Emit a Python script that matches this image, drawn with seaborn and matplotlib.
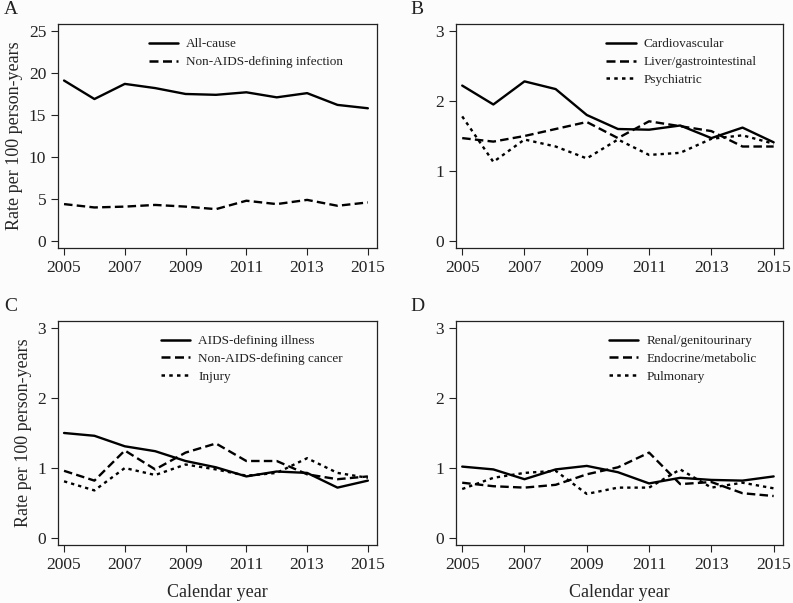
import numpy as np
import pandas as pd
import seaborn as sns
import matplotlib.pyplot as plt

# Mortality rates per 100 person-years, 2005-2015
years = list(range(2005, 2016))

all_cause = [19.1, 16.9, 18.7, 18.2, 17.5, 17.4, 17.7, 17.1, 17.6, 16.2, 15.8]
non_aids_infection = [4.4, 4.0, 4.1, 4.3, 4.1, 3.8, 4.8, 4.4, 4.9, 4.2, 4.6]

cardiovascular = [2.22, 1.95, 2.28, 2.17, 1.80, 1.60, 1.59, 1.65, 1.47, 1.62, 1.41]
liver_gi = [1.47, 1.42, 1.50, 1.60, 1.70, 1.47, 1.71, 1.64, 1.57, 1.35, 1.35]
psychiatric = [1.78, 1.13, 1.45, 1.35, 1.18, 1.45, 1.23, 1.26, 1.46, 1.51, 1.39]

aids_illness = [1.50, 1.46, 1.31, 1.24, 1.10, 1.01, 0.88, 0.95, 0.93, 0.72, 0.82]
non_aids_cancer = [0.96, 0.82, 1.25, 0.98, 1.22, 1.35, 1.10, 1.10, 0.91, 0.84, 0.88]
injury = [0.81, 0.68, 1.00, 0.90, 1.05, 0.98, 0.89, 0.93, 1.14, 0.93, 0.86]

renal = [1.02, 0.98, 0.84, 0.98, 1.03, 0.94, 0.78, 0.86, 0.83, 0.82, 0.88]
endocrine = [0.79, 0.74, 0.72, 0.76, 0.91, 1.01, 1.22, 0.77, 0.80, 0.64, 0.60]
pulmonary = [0.70, 0.86, 0.93, 0.96, 0.63, 0.72, 0.72, 0.98, 0.72, 0.79, 0.71]

panels = [
    ("A", {"All-cause": all_cause, "Non-AIDS-defining infection": non_aids_infection}, [0, 5, 10, 15, 20, 25]),
    ("B", {"Cardiovascular": cardiovascular, "Liver/gastrointestinal": liver_gi, "Psychiatric": psychiatric}, [0, 1, 2, 3]),
    ("C", {"AIDS-defining illness": aids_illness, "Non-AIDS-defining cancer": non_aids_cancer, "Injury": injury}, [0, 1, 2, 3]),
    ("D", {"Renal/genitourinary": renal, "Endocrine/metabolic": endocrine, "Pulmonary": pulmonary}, [0, 1, 2, 3]),
]

sns.set_style("ticks")
plt.rcParams['font.family'] = ['Liberation Serif', 'DejaVu Serif']
plt.rcParams['axes.edgecolor'] = '#222222'
plt.rcParams['xtick.color'] = '#222222'
plt.rcParams['ytick.color'] = '#222222'
plt.rcParams['text.color'] = '#222222'

bg = '#fcfcfc'
fig = plt.figure(figsize=(7.93, 6.03), dpi=100, facecolor=bg)

# axes positions [left, bottom, width, height] in figure fractions
positions = [
    [0.0731, 0.5887, 0.4023, 0.3715],
    [0.5750, 0.5887, 0.4124, 0.3715],
    [0.0731, 0.0962, 0.4023, 0.3715],
    [0.5750, 0.0962, 0.4124, 0.3715],
]
legend_x = {"A": 0.93, "B": 0.955, "C": 0.93, "D": 0.955}
dash_styles = [(None, None), (3.6, 1.8), (1.4, 1.7)]

for (label, series, yticks), pos in zip(panels, positions):
    ax = fig.add_axes(pos)
    ax.set_facecolor(bg)
    df = pd.DataFrame(series, index=years)
    df.index.name = 'year'
    long = df.reset_index().melt(id_vars='year', var_name='cause', value_name='rate')
    names = list(series.keys())
    dashes = {n: d for n, d in zip(names, dash_styles)}
    sns.lineplot(data=long, x='year', y='rate', style='cause', dashes=dashes,
                 color='black', linewidth=1.7, ax=ax)
    ytop = yticks[-1]
    pad = ytop * 0.033
    ax.set_ylim(-pad, ytop + pad)
    ax.set_xlim(2004.8, 2015.3)
    ax.set_xticks([2005, 2007, 2009, 2011, 2013, 2015])
    ax.set_yticks(yticks)
    ax.tick_params(labelsize=12.5, length=5, width=0.8)
    for s in ax.spines.values():
        s.set_linewidth(0.9)
    ax.set_xlabel('Calendar year' if label in ('C', 'D') else '', fontsize=13, labelpad=8)
    ax.set_ylabel('Rate per 100 person-years' if label in ('A', 'C') else '', fontsize=13, labelpad=4)
    leg = ax.legend(frameon=False, fontsize=9.5, loc='upper right', handlelength=2.2,
                    bbox_to_anchor=(legend_x[label], 0.99), labelspacing=0.42, handletextpad=0.6)
    for line in leg.get_lines():
        line.set_linewidth(1.8)
    fig.text(pos[0] - 0.068 if label in ('A', 'C') else pos[0] - 0.058,
             pos[1] + pos[3] + 0.01, label, fontsize=14, ha='left', va='bottom')

fig.savefig('out.png', dpi=100, facecolor=bg)
